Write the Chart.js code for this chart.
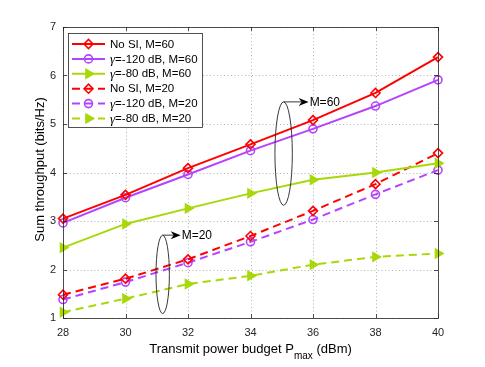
<!DOCTYPE html>
<html>
<head>
<meta charset="utf-8">
<script src="https://cdn.jsdelivr.net/npm/chart.js@4.4.1/dist/chart.umd.min.js"></script>
<style>
  html, body { margin: 0; padding: 0; background: #fff; }
  #wrap { width: 485px; height: 367px; position: relative; }
</style>
</head>
<body>
<div id="wrap"><canvas id="chart"></canvas></div>
<script>
// datos
const powerBudget = [28, 30, 32, 34, 36, 38, 40];
const noSI60 = [3.05, 3.54, 4.09, 4.58, 5.08, 5.64, 6.38];
const gam120M60 = [2.96, 3.48, 3.96, 4.45, 4.90, 5.37, 5.91];
const gam80M60 = [2.45, 2.94, 3.26, 3.57, 3.85, 4.00, 4.19];
const noSI20 = [1.48, 1.81, 2.21, 2.69, 3.21, 3.76, 4.40];
const gam120M20 = [1.38, 1.74, 2.14, 2.57, 3.03, 3.55, 4.05];
const gam80M20 = [1.12, 1.40, 1.70, 1.87, 2.10, 2.26, 2.33];
const seriesLabels = ['No SI, M=60', 'γ=-120 dB, M=60', 'γ=-80 dB, M=60',
                      'No SI, M=20', 'γ=-120 dB, M=20', 'γ=-80 dB, M=20'];
const xTicks = [28, 30, 32, 34, 36, 38, 40];
const yTicks = [1, 2, 3, 4, 5, 6, 7];

const SANS = '"Liberation Sans", Arial, Helvetica, sans-serif';
const AXIS = '#262626';
const RED = '#ff0000';
const PURPLE = '#b343ff';
const GREEN = '#a8d80a';

const markers = {
  diamond: { pointStyle: 'rectRot', radius: 4.5, rotation: 0, filled: false },
  circle: { pointStyle: 'circle', radius: 4, rotation: 0, filled: false },
  triangle: { pointStyle: 'triangle', radius: 5, rotation: 90, filled: true }
};

function makeSeries(label, values, color, dashed, mk) {
  const m = markers[mk];
  return {
    label: label,
    data: values.map((v, i) => ({ x: powerBudget[i], y: v })),
    borderColor: color,
    borderWidth: 2,
    borderDash: dashed ? [8, 5] : [],
    pointStyle: m.pointStyle,
    pointRotation: m.rotation,
    pointRadius: m.radius,
    pointBorderWidth: 1.6,
    pointBorderColor: color,
    pointBackgroundColor: m.filled ? color : 'rgba(0,0,0,0)',
    fill: false,
    tension: 0,
    clip: false,
    _marker: mk,
    _dashed: dashed
  };
}

const datasets = [
  makeSeries(seriesLabels[0], noSI60, RED, false, 'diamond'),
  makeSeries(seriesLabels[1], gam120M60, PURPLE, false, 'circle'),
  makeSeries(seriesLabels[2], gam80M60, GREEN, false, 'triangle'),
  makeSeries(seriesLabels[3], noSI20, RED, true, 'diamond'),
  makeSeries(seriesLabels[4], gam120M20, PURPLE, true, 'circle'),
  makeSeries(seriesLabels[5], gam80M20, GREEN, true, 'triangle')
];

// dibuja un marcador (leyenda)
function drawMarker(ctx, ds, x, y) {
  const m = markers[ds._marker];
  ctx.save();
  ctx.setLineDash([]);
  ctx.lineWidth = 1.6;
  ctx.strokeStyle = ds.borderColor;
  ctx.fillStyle = m.filled ? ds.borderColor : 'rgba(0,0,0,0)';
  if (Chart.helpers && Chart.helpers.drawPoint) {
    Chart.helpers.drawPoint(ctx, {
      pointStyle: m.pointStyle, rotation: m.rotation, radius: m.radius, borderWidth: 1.6
    }, x, y);
  } else {
    ctx.beginPath();
    ctx.arc(x, y, m.radius, 0, Math.PI * 2);
    ctx.fill();
    ctx.stroke();
  }
  ctx.restore();
}

// rejilla punteada, marco, leyenda, anotaciones y títulos al estilo MATLAB
const matlabLook = {
  id: 'matlabLook',
  beforeDatasetsDraw(chart) {
    const { ctx, chartArea: a, scales } = chart;
    ctx.save();
    ctx.strokeStyle = 'rgba(38,38,38,0.45)';
    ctx.lineWidth = 0.8;
    ctx.setLineDash([1, 2.5]);
    xTicks.forEach(v => {
      const px = Math.round(scales.x.getPixelForValue(v)) + 0.5;
      ctx.beginPath(); ctx.moveTo(px, a.top); ctx.lineTo(px, a.bottom); ctx.stroke();
    });
    yTicks.forEach(v => {
      const py = Math.round(scales.y.getPixelForValue(v)) + 0.5;
      ctx.beginPath(); ctx.moveTo(a.left, py); ctx.lineTo(a.right, py); ctx.stroke();
    });
    ctx.restore();
  },
  afterDraw(chart) {
    const { ctx, chartArea: a, scales } = chart;
    ctx.save();

    // marco y ticks interiores
    ctx.strokeStyle = AXIS;
    ctx.lineWidth = 0.8;
    ctx.setLineDash([]);
    ctx.strokeRect(Math.round(a.left) + 0.5, Math.round(a.top) + 0.5,
                   Math.round(a.right - a.left), Math.round(a.bottom - a.top));
    const tl = 4;
    ctx.beginPath();
    xTicks.forEach(v => {
      const px = Math.round(scales.x.getPixelForValue(v)) + 0.5;
      ctx.moveTo(px, a.bottom); ctx.lineTo(px, a.bottom - tl);
      ctx.moveTo(px, a.top); ctx.lineTo(px, a.top + tl);
    });
    yTicks.forEach(v => {
      const py = Math.round(scales.y.getPixelForValue(v)) + 0.5;
      ctx.moveTo(a.left, py); ctx.lineTo(a.left + tl, py);
      ctx.moveTo(a.right, py); ctx.lineTo(a.right - tl, py);
    });
    ctx.stroke();

    // anotaciones: elipse + flecha + texto
    const notes = [
      { text: 'M=60', x: 35.06, y: 4.39, rx: 8.7, ry: 51.7, shaft: 25 },
      { text: 'M=20', x: 31.19, y: 1.90, rx: 6.7, ry: 39.2, shaft: 18 }
    ];
    notes.forEach(n => {
      const cx = scales.x.getPixelForValue(n.x);
      const cy = scales.y.getPixelForValue(n.y);
      ctx.strokeStyle = '#222';
      ctx.lineWidth = 0.9;
      ctx.beginPath();
      ctx.ellipse(cx, cy, n.rx, n.ry, 0, 0, Math.PI * 2);
      ctx.stroke();
      const ty = cy - n.ry;
      const tip = cx + n.shaft;
      ctx.beginPath();
      ctx.moveTo(cx, ty); ctx.lineTo(tip - 6, ty);
      ctx.stroke();
      ctx.fillStyle = '#000';
      ctx.beginPath();
      ctx.moveTo(tip, ty);
      ctx.lineTo(tip - 10, ty - 4);
      ctx.lineTo(tip - 7, ty);
      ctx.lineTo(tip - 10, ty + 4);
      ctx.closePath();
      ctx.fill();
      ctx.font = '12px ' + SANS;
      ctx.textAlign = 'left';
      ctx.textBaseline = 'middle';
      ctx.fillText(n.text, tip + 1, ty + 0.5);
    });

    // leyenda
    const lx = 68, ly = 33, lw = 134, lh = 94;
    ctx.fillStyle = '#fff';
    ctx.fillRect(lx, ly, lw, lh);
    ctx.strokeStyle = AXIS;
    ctx.lineWidth = 0.8;
    ctx.strokeRect(lx + 0.5, ly + 0.5, lw, lh);
    chart.data.datasets.forEach((ds, i) => {
      const ry = ly + 11 + i * 14.9;
      ctx.save();
      ctx.strokeStyle = ds.borderColor;
      ctx.lineWidth = 2;
      ctx.setLineDash(ds._dashed ? [8, 5] : []);
      ctx.beginPath();
      ctx.moveTo(lx + 4, ry); ctx.lineTo(lx + 37, ry);
      ctx.stroke();
      ctx.restore();
      drawMarker(ctx, ds, lx + 20.5, ry);
      ctx.fillStyle = '#000';
      ctx.textBaseline = 'middle';
      ctx.textAlign = 'left';
      let tx = lx + 42;
      let txt = ds.label;
      if (txt.charAt(0) === 'γ') {
        ctx.font = 'italic 13px "Liberation Serif", "Times New Roman", serif';
        ctx.fillText('γ', tx, ry + 1);
        tx += ctx.measureText('γ').width;
        txt = txt.slice(1);
      }
      ctx.font = '11.5px ' + SANS;
      ctx.fillText(txt, tx, ry + 0.5);
    });

    // título eje x con subíndice
    const main = 'Transmit power budget P', sub = 'max', tail = ' (dBm)';
    ctx.fillStyle = '#000';
    ctx.textBaseline = 'middle';
    ctx.textAlign = 'left';
    ctx.font = '13px ' + SANS;
    const w1 = ctx.measureText(main).width, w3 = ctx.measureText(tail).width;
    ctx.font = '10px ' + SANS;
    const w2 = ctx.measureText(sub).width;
    let sx = (a.left + a.right) / 2 - (w1 + w2 + w3) / 2;
    ctx.font = '13px ' + SANS;
    ctx.fillText(main, sx, 349);
    ctx.font = '10px ' + SANS;
    ctx.fillText(sub, sx + w1, 356);
    ctx.font = '13px ' + SANS;
    ctx.fillText(tail, sx + w1 + w2, 349);

    // título eje y
    ctx.translate(40, (a.top + a.bottom) / 2 - 3);
    ctx.rotate(-Math.PI / 2);
    ctx.textAlign = 'center';
    ctx.font = '13px ' + SANS;
    ctx.fillText('Sum throughput (bits/Hz)', 0, 0);

    ctx.restore();
  }
};

new Chart(document.getElementById('chart'), {
  type: 'line',
  data: { datasets: datasets },
  options: {
    responsive: true,
    maintainAspectRatio: false,
    animation: false,
    events: [],
    layout: { padding: { left: 0, top: 27, right: 47, bottom: 0 } },
    plugins: { legend: { display: false }, tooltip: { enabled: false }, title: { display: false } },
    scales: {
      x: {
        type: 'linear',
        min: 28, max: 40,
        afterBuildTicks: s => { s.ticks = xTicks.map(v => ({ value: v })); },
        afterFit: s => { s.height = 49; },
        grid: { display: false, drawTicks: false },
        border: { display: false },
        ticks: { color: AXIS, font: { family: SANS, size: 11 }, padding: 8, maxRotation: 0 }
      },
      y: {
        type: 'linear',
        min: 1, max: 7,
        afterBuildTicks: s => { s.ticks = yTicks.map(v => ({ value: v })); },
        afterFit: s => { s.width = 63; },
        grid: { display: false, drawTicks: false },
        border: { display: false },
        ticks: { color: AXIS, font: { family: SANS, size: 11 }, padding: 7 }
      }
    }
  },
  plugins: [matlabLook]
});
</script>
</body>
</html>
